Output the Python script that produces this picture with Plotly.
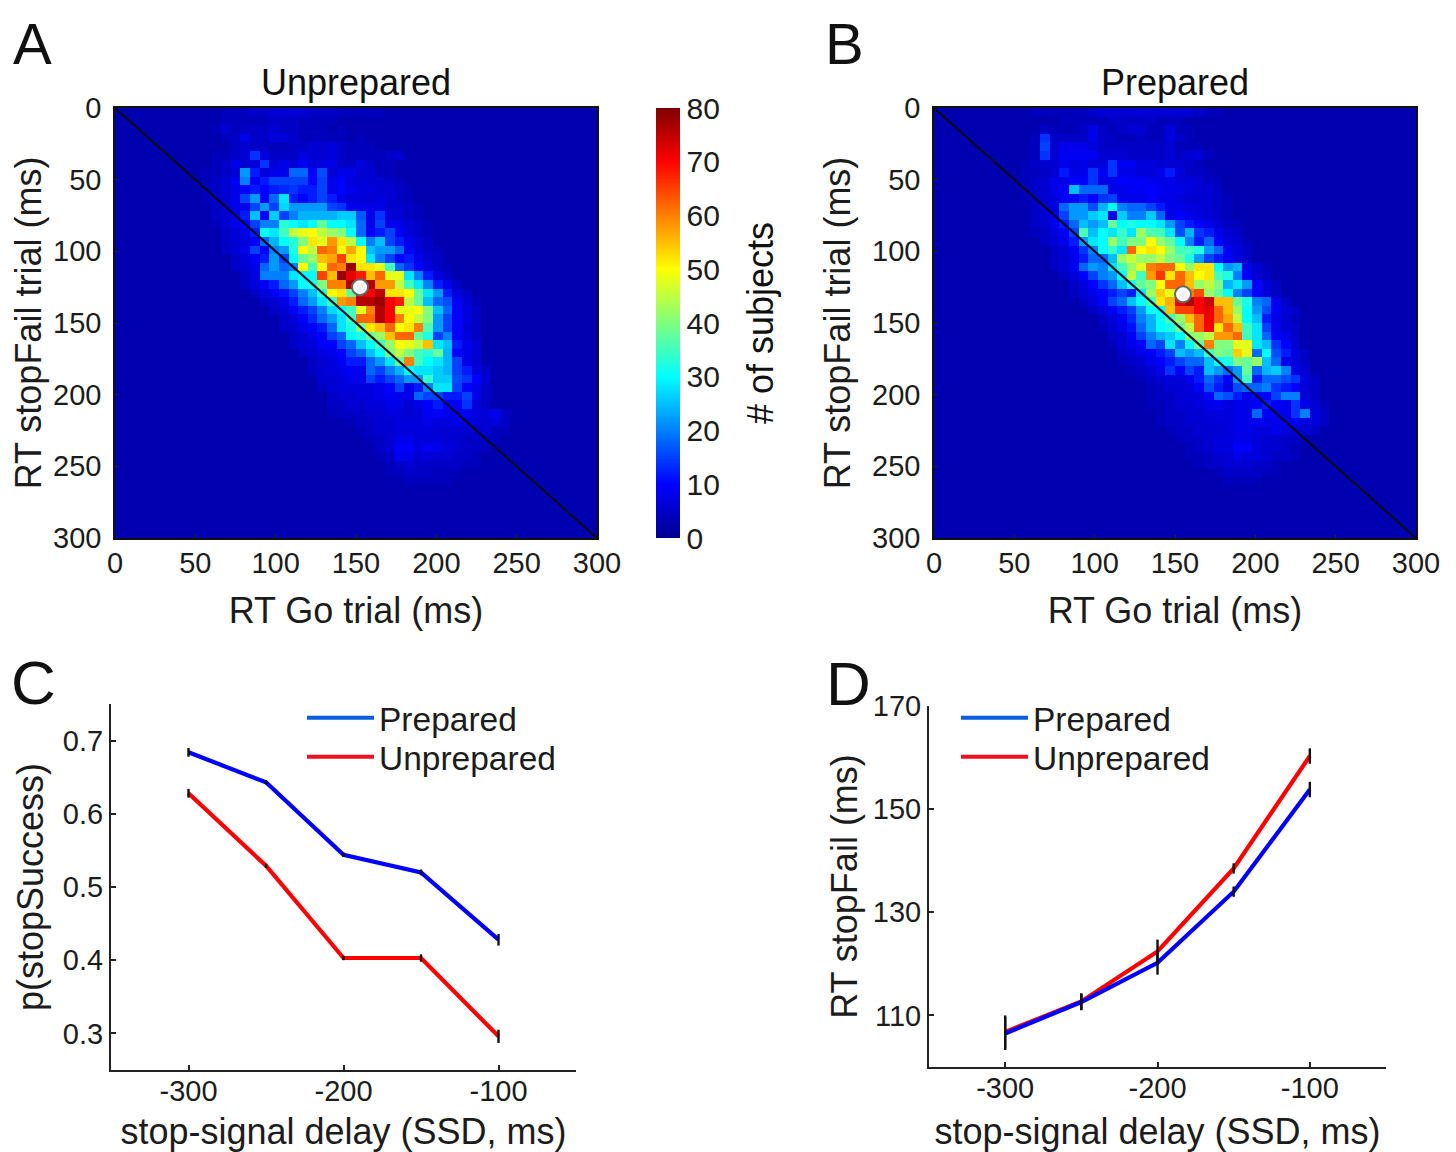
import plotly.graph_objects as go

GRID = 50
BACKGROUND = 3
def row(start, values):
    return [BACKGROUND] * start + values + [BACKGROUND] * (GRID - start - len(values))

bin_centres = [3 + 6 * i for i in range(GRID)]

unprepared_counts = [
 row(11,[4,4,4,5,5,6,6,6,6,5,5,5,4,4,4,4,4]),
 row(8,[3,3,3,4,4,4,4,4,5,5,5,4,4,4,4,3,3,3]),
 row(10,[4,6,4,5,5,5,6,5,5,4,4,4,3,4,3,3]),
 row(9,[3,3,4,5,8,5,5,7,7,5,4,4,4,4,4,3,4,3]),
 row(9,[3,3,3,5,6,5,5,4,4,5,5,6,6,7,5,4,4,4,3,3]),
 row(8,[3,3,4,4,5,6,14,7,5,5,5,7,6,6,7,5,4,4,4,4,5,6]),
 row(7,[3,3,3,4,5,8,6,7,14,6,8,6,9,7,7,8,5,5,7,5,4,4,3]),
 row(7,[3,3,4,4,5,6,22,12,7,8,8,18,18,10,16,6,8,8,6,6,4,4,3]),
 row(9,[4,5,6,9,20,9,12,15,15,15,15,10,15,8,10,7,7,6,6,5,4]),
 row(9,[4,5,6,8,10,12,10,12,13,14,12,12,15,8,10,8,7,7,6,6,5,4]),
 row(9,[4,5,6,8,15,22,10,18,28,12,10,12,15,12,8,7,7,6,7,6,5,4]),
 row(10,[5,6,8,8,15,22,15,27,22,22,22,22,15,14,8,8,8,8,6,6,5,4]),
 row(10,[5,6,8,12,25,10,26,15,20,24,24,24,24,26,26,17,8,14,7,6,5,4]),
 row(10,[4,6,8,10,15,20,20,33,30,28,30,38,30,30,28,18,8,15,8,8,6,5,4]),
 row(11,[5,6,8,12,30,28,35,45,48,50,45,42,40,30,18,10,12,15,9,7,5,4]),
 row(11,[5,6,7,10,18,24,30,33,40,52,48,58,52,45,30,20,25,15,12,8,6,5]),
 row(11,[5,6,8,15,10,20,22,32,50,45,62,60,50,57,50,25,22,22,18,9,7,5,4]),
 row(12,[5,7,9,12,22,15,30,38,42,55,57,65,52,50,28,20,15,10,12,8,6,5]),
 row(12,[5,6,8,18,22,18,20,50,35,50,62,60,78,52,52,48,35,18,14,10,7,5,4]),
 row(13,[5,7,20,20,20,28,30,30,65,55,78,72,68,55,62,48,48,28,20,12,7,5]),
 row(13,[5,7,9,12,18,22,30,32,40,60,60,76,72,76,58,58,45,35,28,20,12,8,5]),
 row(14,[5,7,9,11,15,20,25,33,50,52,38,72,70,75,52,52,50,38,28,22,12,7,5]),
 row(15,[5,6,8,12,18,22,28,35,58,60,76,76,78,70,68,45,38,25,18,16,9,6,4]),
 row(16,[5,6,9,12,15,20,27,30,35,48,60,76,70,48,48,50,40,25,18,10,7,5]),
 row(17,[5,7,10,13,18,22,28,35,62,62,76,70,60,50,45,40,22,15,10,7,5]),
 row(17,[5,6,8,10,12,18,28,32,40,52,55,62,50,52,60,36,22,15,10,6,5]),
 row(18,[5,6,8,10,15,18,30,32,38,42,55,62,62,38,32,15,20,10,7,5]),
 row(18,[5,6,7,9,10,15,18,25,30,35,42,50,48,45,55,28,25,12,8,6]),
 row(19,[5,6,7,8,10,15,18,25,30,40,45,40,35,33,38,24,10,8,6]),
 row(20,[5,6,7,9,12,12,18,22,28,38,60,35,30,28,24,15,8,6]),
 row(20,[5,6,7,8,9,8,18,15,20,24,30,28,28,26,24,15,12,7,5]),
 row(21,[6,6,7,8,8,15,12,15,18,22,22,34,26,26,16,14,10,6]),
 row(21,[5,6,7,7,7,7,8,10,15,8,12,20,28,28,15,10,8,5]),
 row(22,[5,6,6,7,7,8,9,8,8,18,15,15,12,12,15,8,5]),
 row(22,[5,5,6,6,7,7,8,8,6,8,10,12,10,10,14,7,5]),
 row(22,[4,5,5,5,6,6,7,7,6,7,9,10,8,8,9,7,7,8,5]),
 row(24,[4,5,5,6,6,7,7,7,8,7,7,8,7,7,6,7,5]),
 row(25,[4,5,6,6,7,7,7,7,6,6,6,6,5,6,4,4]),
 row(26,[4,5,6,8,8,7,7,7,6,6,5,5,4,4]),
 row(27,[5,6,10,10,7,9,8,7,6,5,5,4]),
 row(27,[4,5,9,8,6,7,6,6,5,5,4]),
 row(28,[4,5,6,5,5,5,5,5,4,4]),
 row(28,[4,4,5,5,5,4,4,4,3]),
 row(29,[3,4,4,4,4,4,3,3]),
 row(30,[3,3,3,3,3]),
 row(0,[]), row(0,[]), row(0,[]), row(0,[]), row(0,[]),
]

prepared_counts = [
 row(10,[4,4,4,4,4,4,5,6,6,6,6,6,6,6,6,6,6,5,4,4]),
 row(8,[3,3,3,3,3,4,4,4,4,4,5,5,5,5,5,4,4,4,3,3]),
 row(8,[3,3,3,5,4,4,4,5,8,5,4,5,6,6,4,4,7,4,4,3]),
 row(8,[3,3,4,14,5,5,5,5,8,5,5,4,4,5,4,4,7,5,4,3]),
 row(8,[3,3,4,15,6,8,8,8,7,5,5,5,5,5,5,5,6,4,4,4]),
 row(8,[3,3,4,14,6,9,9,9,9,6,6,6,5,5,5,5,6,5,6,7,4,3]),
 row(7,[3,3,4,5,6,6,8,7,8,7,7,14,9,9,7,7,6,6,6,5,4]),
 row(7,[3,3,4,4,5,6,12,8,8,14,9,14,8,8,7,7,8,12,7,5,5,4]),
 row(9,[4,5,6,8,8,10,10,14,8,8,10,9,9,8,8,8,7,7,6,5,4]),
 row(9,[4,5,6,8,9,25,18,18,18,8,8,9,9,10,9,8,8,7,6,6,5]),
 row(9,[4,5,6,7,10,10,12,10,14,15,8,8,8,9,8,8,7,6,6,6,5,4]),
 row(10,[5,6,7,18,22,22,16,24,30,20,18,18,15,12,8,8,7,7,6,5,4]),
 row(10,[5,6,8,15,22,22,26,28,8,26,20,20,26,18,8,10,8,7,6,5,4]),
 row(10,[5,6,8,12,18,25,22,25,38,30,32,30,30,28,22,15,12,10,8,6,5,4]),
 row(10,[4,5,7,10,15,36,25,30,28,34,28,42,36,35,28,16,24,14,12,8,6,5]),
 row(11,[5,6,8,12,22,28,30,42,35,40,40,50,42,38,30,20,12,18,10,7,6,4]),
 row(12,[5,6,9,14,20,30,34,28,62,50,52,50,42,35,35,32,22,18,9,7,5]),
 row(12,[5,6,8,12,18,18,25,42,46,42,42,45,40,38,32,22,15,12,9,7,5]),
 row(12,[5,6,9,18,22,20,28,35,42,48,60,62,62,50,42,52,52,30,22,24,8,6,4]),
 row(13,[5,7,10,15,20,22,30,45,35,58,66,52,62,55,50,52,35,32,20,10,6,5]),
 row(14,[5,7,10,14,18,25,32,38,40,50,62,62,55,42,45,40,24,28,22,10,6,5]),
 row(14,[5,6,8,10,12,15,12,28,42,54,48,60,60,64,42,38,30,20,15,10,6,5]),
 row(15,[5,7,10,15,18,25,30,36,52,56,72,76,70,74,55,55,38,32,20,18,8,5]),
 row(16,[5,7,9,12,15,22,30,30,55,65,65,70,72,62,55,42,30,22,16,9,6,5]),
 row(17,[5,7,9,13,20,24,30,36,42,55,62,71,62,57,45,30,25,12,8,6,4]),
 row(17,[4,6,8,11,18,24,30,32,38,45,62,70,52,62,55,35,28,15,8,6,5]),
 row(18,[5,6,9,15,20,24,26,30,40,42,45,58,58,62,35,28,18,10,8,5]),
 row(18,[4,6,8,10,18,15,28,20,30,38,60,40,40,48,48,28,25,14,10,6]),
 row(19,[5,6,8,9,12,15,25,22,25,35,40,38,54,48,18,30,16,12,7,5]),
 row(19,[4,5,6,8,10,12,15,18,18,25,30,32,40,38,42,25,18,8,7,5]),
 row(20,[4,5,6,8,14,10,15,12,25,22,18,22,38,18,24,26,20,8,6]),
 row(21,[4,5,6,7,7,8,12,18,14,10,22,35,12,18,18,16,14,7,5]),
 row(22,[4,5,6,6,7,10,16,12,8,16,18,18,20,14,12,10,6,5]),
 row(22,[4,5,5,6,7,7,10,18,16,12,8,10,10,15,20,20,7,5]),
 row(22,[4,4,5,6,6,7,8,9,7,8,8,9,12,10,8,14,8,6,4]),
 row(23,[4,5,5,6,6,7,7,7,8,8,18,10,9,8,14,20,7,5]),
 row(23,[4,5,5,6,6,6,7,7,8,8,9,8,8,8,9,7,7,5]),
 row(24,[4,5,5,6,6,6,7,8,8,7,7,8,7,6,6,5]),
 row(25,[4,5,5,6,7,7,8,8,7,6,6,5,5]),
 row(26,[4,5,6,7,7,10,10,7,6,6,5,4]),
 row(26,[4,4,5,6,6,8,7,7,6,5,5,4]),
 row(27,[4,5,5,6,6,6,5,5,4]),
 row(28,[3,4,5,5,5,5,4,4]),
 row(29,[3,4,4,4,4,3]),
 row(30,[3,3,3]),
 row(0,[]), row(0,[]), row(0,[]), row(0,[]), row(0,[]),
]

diagonal = [0, 300]
mean_unprepared = ([152.5], [125])
mean_prepared = ([155], [130])

ssd = [-300, -250, -200, -150, -100]
c_prepared = [0.684, 0.643, 0.544, 0.520, 0.428]
c_prepared_err = [0.006, 0.003, 0.003, 0.004, 0.008]
c_unprepared = [0.628, 0.529, 0.403, 0.403, 0.296]
c_unprepared_err = [0.006, 0.003, 0.003, 0.005, 0.009]
d_prepared = [106.5, 112.6, 120.2, 134.0, 153.8]
d_prepared_err = [3.2, 1.6, 2.3, 1.0, 1.5]
d_unprepared = [106.8, 112.7, 122.4, 138.5, 160.3]
d_unprepared_err = [3.2, 1.6, 2.3, 1.0, 1.5]

heat_ticks = [0, 50, 100, 150, 200, 250, 300]
FONT = "Liberation Sans"
INK = "#1c1c1c"
BLUE, RED = "#0000ff", "#ff0000"
LEG_BLUE, LEG_RED = "#0a5fe0", "#f01020"
PAGE_MARGIN = 8
W, H = 1456 - PAGE_MARGIN, 1152 - PAGE_MARGIN
JET = [[0, "#00008f"], [0.125, "#0000ff"], [0.375, "#00ffff"], [0.625, "#ffff00"], [0.875, "#ff0000"], [1, "#800000"]]

def fx(px): return (px - PAGE_MARGIN) / W
def fy(px): return 1 - (px - PAGE_MARGIN) / H
def dx(a, b): return [fx(a), fx(b)]
def dy(top, bottom): return [fy(bottom), fy(top)]

fig = go.Figure()

for i, (z, mean) in enumerate([(unprepared_counts, mean_unprepared), (prepared_counts, mean_prepared)]):
    ax = "" if i == 0 else "2"
    hm = dict(x=bin_centres, y=bin_centres, z=z, zmin=0, zmax=80, colorscale=JET, xaxis="x" + ax, yaxis="y" + ax, hoverinfo="skip")
    if i == 0:
        hm.update(showscale=True, colorbar=dict(
            thickness=24, thicknessmode="pixels", len=430, lenmode="pixels",
            x=fx(656), xanchor="left", y=fy(323), yanchor="middle", xpad=0, ypad=0,
            tickvals=list(range(0, 81, 10)), ticks="", outlinewidth=0,
            tickfont=dict(family=FONT, size=30, color=INK)))
    else:
        hm.update(showscale=False)
    fig.add_trace(go.Heatmap(**hm))
    fig.add_trace(go.Scatter(x=diagonal, y=diagonal, mode="lines", line=dict(color="#0a0a20", width=2.2),
                             xaxis="x" + ax, yaxis="y" + ax, showlegend=False, hoverinfo="skip"))
    fig.add_trace(go.Scatter(x=mean[0], y=mean[1], mode="markers", showlegend=False, hoverinfo="skip",
                             marker=dict(size=16, color="#ffffff", gradient=dict(type="radial", color="#ededed"),
                                         line=dict(color="#666666", width=2)),
                             xaxis="x" + ax, yaxis="y" + ax))

def line_panel(ax, prep, prep_e, unprep, unprep_e, leg_a, leg_b):
    kw = dict(xaxis="x" + ax, yaxis="y" + ax, hoverinfo="skip")
    fig.add_trace(go.Scatter(x=ssd, y=unprep, mode="lines", line=dict(color=RED, width=4.2), showlegend=False, **kw))
    fig.add_trace(go.Scatter(x=ssd, y=prep, mode="lines", line=dict(color=BLUE, width=4.2), showlegend=False, **kw))
    for vals, err in [(unprep, unprep_e), (prep, prep_e)]:
        fig.add_trace(go.Scatter(x=ssd, y=vals, mode="markers", marker=dict(size=1, opacity=0), showlegend=False,
                                 error_y=dict(type="data", array=err, width=0, thickness=2.4, color="#111111"), **kw))
    fig.add_trace(go.Scatter(x=[None], y=[None], mode="lines", name="Prepared", legend=leg_a,
                             line=dict(color=LEG_BLUE, width=4), **kw))
    fig.add_trace(go.Scatter(x=[None], y=[None], mode="lines", name="Unprepared", legend=leg_b,
                             line=dict(color=LEG_RED, width=4), **kw))

line_panel("3", c_prepared, c_prepared_err, c_unprepared, c_unprepared_err, "legend", "legend2")
line_panel("4", d_prepared, d_prepared_err, d_unprepared, d_unprepared_err, "legend3", "legend4")

def heat_x(domain, anchor):
    return dict(domain=domain, anchor=anchor, range=[0, 300], tickvals=heat_ticks, ticks="inside", ticklen=4, tickwidth=1,
                tickcolor="#222", showline=True, mirror=True, linecolor="#111", linewidth=1.5, showgrid=False, zeroline=False,
                tickfont=dict(family=FONT, size=29, color=INK), ticklabelstandoff=-2,
                title=dict(text="RT Go trial (ms)", font=dict(family=FONT, size=36, color=INK), standoff=20))
def heat_y(domain, anchor):
    return dict(domain=domain, anchor=anchor, range=[300, 0], tickvals=heat_ticks, ticks="inside", ticklen=4, tickwidth=1,
                tickcolor="#222", showline=True, mirror=True, linecolor="#111", linewidth=1.5, showgrid=False, zeroline=False,
                tickfont=dict(family=FONT, size=29, color=INK), ticklabelstandoff=6,
                title=dict(text="RT stopFail trial (ms)", font=dict(family=FONT, size=36, color=INK), standoff=10))
def line_x(domain, anchor):
    return dict(domain=domain, anchor=anchor, range=[-350, -50], tickvals=[-300, -200, -100], ticktext=["-300", "-200", "-100"],
                ticks="inside", ticklen=5, tickwidth=2, tickcolor="#222", showline=True, linecolor="#222", linewidth=2,
                showgrid=False, zeroline=False, tickfont=dict(family=FONT, size=29, color=INK), ticklabelstandoff=-6,
                title=dict(text="stop-signal delay (SSD, ms)", font=dict(family=FONT, size=36, color=INK), standoff=27))
def line_y(domain, anchor, rng, vals, text, title, standoff):
    return dict(domain=domain, anchor=anchor, range=rng, tickvals=vals, ticktext=text, ticks="inside", ticklen=5, tickwidth=2,
                tickcolor="#222", showline=True, linecolor="#222", linewidth=2, showgrid=False, zeroline=False,
                tickfont=dict(family=FONT, size=29, color=INK),
                title=dict(text=title, font=dict(family=FONT, size=36, color=INK), standoff=standoff))

def leg(x_px, y_px):
    return dict(x=fx(x_px), y=fy(y_px), xanchor="left", yanchor="middle", bgcolor="rgba(0,0,0,0)", borderwidth=0,
                itemwidth=67, itemclick=False, font=dict(family=FONT, size=33.5, color=INK))

def note(text, x_px, y_px, size, angle=0, anchor="middle"):
    return dict(text=text, x=fx(x_px), y=fy(y_px), xref="paper", yref="paper", showarrow=False, textangle=angle,
                xanchor="center", yanchor=anchor, font=dict(family=FONT, size=size, color="#111"))

fig.update_layout(
    width=W, height=H, margin=dict(l=0, r=0, t=0, b=0, autoexpand=False), paper_bgcolor="white", plot_bgcolor="white",
    font=dict(family=FONT),
    xaxis=heat_x(dx(115, 597), "y"), yaxis=heat_y(dy(108, 538), "x"),
    xaxis2=heat_x(dx(934, 1416), "y2"), yaxis2=heat_y(dy(108, 538), "x2"),
    xaxis3=line_x(dx(111, 576), "y3"),
    yaxis3=line_y(dy(704, 1070), "x3", [0.25, 0.75], [0.3, 0.4, 0.5, 0.6, 0.7], ["0.3", "0.4", "0.5", "0.6", "0.7"], "p(stopSuccess)", 8),
    xaxis4=line_x(dx(929, 1386), "y4"),
    yaxis4=line_y(dy(706, 1067), "x4", [100, 170], [110, 130, 150, 170], ["110", "130", "150", "170"], "RT stopFail (ms)", 4),
    legend=leg(302, 718), legend2=leg(302, 757), legend3=leg(956, 718), legend4=leg(956, 757),
    annotations=[
        note("Unprepared", 356, 82, 36), note("Prepared", 1175, 82, 36),
        note("# of subjects", 760, 323, 36, -90),
        note("A", 32, 9, 58, anchor="top"), note("B", 845, 9, 58, anchor="top"),
        note("C", 33, 682, 62), note("D", 848, 683, 62),
    ],
)
fig.write_html("out.html")
